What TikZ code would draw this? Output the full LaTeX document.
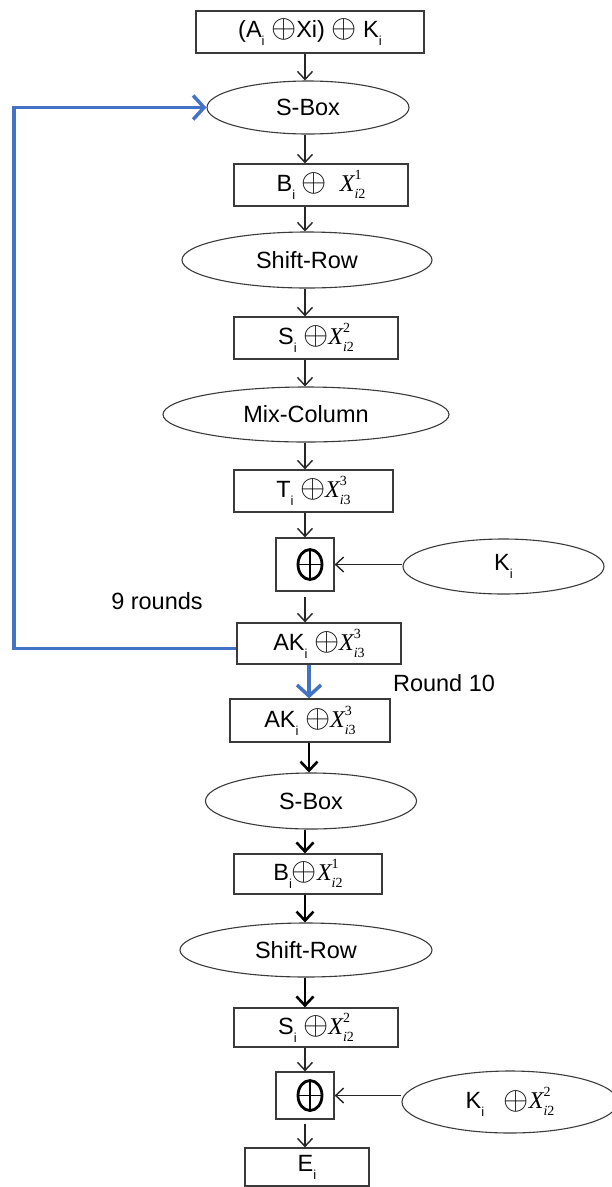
\documentclass[tikz,border=0pt]{standalone}
\usepackage{fontspec}
\usepackage{graphicx}
\setmainfont{Liberation Sans}
\newfontfamily\tnr{Liberation Serif}
\usetikzlibrary{shapes.geometric,arrows.meta}
\definecolor{lineblue}{HTML}{4472C4}
\definecolor{edgegray}{HTML}{3A3A3A}
\newcommand{\sbi}{\raisebox{-0.34em}{\fontsize{13}{13}\selectfont i}}
\newcommand{\Xv}[3]{{\tnr\itshape\fontsize{24}{26}\selectfont X}\makebox[0pt][l]{\raisebox{0.5em}{\tnr\fontsize{14}{14}\selectfont #1}}\raisebox{-0.3em}{\tnr\fontsize{14}{14}\selectfont\textit{#2}#3}}
\newcommand{\xor}{\raisebox{-0.02em}{\scalebox{1.3}{$\oplus$}}}
\tikzset{
  box/.style={draw=edgegray, line width=1.3pt, rectangle, inner sep=0pt, font=\fontsize{23.5}{27}\selectfont},
  oval/.style={draw=edgegray, line width=1.1pt, ellipse, inner sep=0pt, font=\fontsize{23.5}{27}\selectfont},
  lbl/.style={inner sep=0pt, font=\fontsize{23.5}{27}\selectfont},
  conn/.style={draw=black!85, line width=1.4pt, -{Straight Barb[length=8pt,width=15pt]}},
  heavy/.style={draw=black, line width=2.6pt, -{Straight Barb[length=9pt,width=17pt]}},
  blueline/.style={draw=lineblue, line width=3.5pt},
  bluearr/.style={blueline, -{Straight Barb[length=11pt,width=24pt]}},
  xorsym/.style={draw=black, line width=2.8pt},
  xorbar/.style={draw=black, line width=1.8pt}
}
\begin{document}
\begin{tikzpicture}[x=1pt,y=-1pt]
\useasboundingbox (0,0) rectangle (612,1187);
\coordinate (col) at (305,0);
\coordinate (colb) at (309,0);
\coordinate (loopL) at (14,107.5);
% nodes
\node[box, minimum width=228pt, minimum height=42pt] (box1) at (310,32) {(A\sbi{} \xor Xi) \xor{} K\sbi};
\node[oval, minimum width=202pt, minimum height=53pt] (sbox1) at (308,107.5) {S-Box};
\node[box, minimum width=174pt, minimum height=42pt] (b1) at (321,185) {B\sbi{} \xor{}\; \Xv{1}{i}{2}};
\node[oval, minimum width=250pt, minimum height=56pt] (sr1) at (307,260) {Shift-Row};
\node[box, minimum width=164pt, minimum height=42pt] (s1) at (316,338) {S\sbi{} \xor\Xv{2}{i}{2}};
\node[oval, minimum width=286pt, minimum height=55pt] (mc) at (306,414.5) {Mix-Column};
\node[box, minimum width=159pt, minimum height=42pt] (t1) at (313.5,491) {T\sbi{} \xor\Xv{3}{i}{3}};
\node[box, minimum width=58pt, minimum height=53pt] (x1) at (305,564.5) {};
\node[oval, minimum width=201pt, minimum height=55pt] (ki) at (503.5,566.5) {K\sbi};
\node[lbl] (r9) at (157,601) {9 rounds};
\node[box, minimum width=164pt, minimum height=41pt] (ak1) at (319,643.5) {AK\sbi{} \xor\Xv{3}{i}{3}};
\node[lbl] (r10) at (444,683) {Round 10};
\node[box, minimum width=160pt, minimum height=43pt] (ak2) at (310,720.5) {AK\sbi{} \xor\Xv{3}{i}{3}};
\node[oval, minimum width=211pt, minimum height=56pt] (sbox2) at (311,801) {S-Box};
\node[box, minimum width=148pt, minimum height=40pt] (b2) at (308,874) {B\sbi\xor\Xv{1}{i}{2}};
\node[oval, minimum width=252pt, minimum height=54pt] (sr2) at (306,950) {Shift-Row};
\node[box, minimum width=164pt, minimum height=39pt] (s2) at (316,1027.5) {S\sbi{} \xor\Xv{2}{i}{2}};
\node[box, minimum width=58pt, minimum height=47pt] (x2) at (305,1095.5) {};
\node[oval, minimum width=216pt, minimum height=62pt] (kx) at (510,1102) {K\sbi{}\;\; \xor\Xv{2}{i}{2}};
\node[box, minimum width=124pt, minimum height=38pt] (ei) at (307,1167) {E\sbi};
% xor symbols in boxes
\draw[xorsym] ([xshift=5pt]x1.center) ellipse [x radius=12, y radius=15];
\draw[xorbar] ([xshift=5pt,yshift=15pt]x1.center) -- ([xshift=5pt,yshift=-15pt]x1.center);
\draw[xorbar] ([xshift=-7pt]x1.center) -- ([xshift=17pt]x1.center);
\draw[xorsym] ([xshift=5pt]x2.center) ellipse [x radius=12, y radius=15];
\draw[xorbar] ([xshift=5pt,yshift=15pt]x2.center) -- ([xshift=5pt,yshift=-15pt]x2.center);
\draw[xorbar] ([xshift=-7pt]x2.center) -- ([xshift=17pt]x2.center);
% connectors, upper part
\draw[conn] (box1.south -| col) -- (sbox1.north -| col);
\draw[conn] (sbox1.south -| col) -- (b1.north -| col);
\draw[conn] (b1.south -| col) -- (sr1.north -| col);
\draw[conn] (sr1.south -| col) -- (s1.north -| col);
\draw[conn] (s1.south -| col) -- (mc.north -| col);
\draw[conn] (mc.south -| col) -- (t1.north -| col);
\draw[conn] (t1.south -| col) -- (x1.north -| col);
\draw[conn] (x1.east -| ki.west) -- (x1.east);
\draw[conn, shorten <=5pt] (x1.south -| col) -- (ak1.north -| col);
% loop
\draw[bluearr] ([yshift=-5pt]ak1.west) -| (loopL) |- (sbox1.west);
\draw[bluearr] (ak1.south -| colb) -- (ak2.north -| colb);
% lower part
\draw[heavy] (ak2.south -| colb) -- (sbox2.north -| colb);
\draw[heavy] (sbox2.south -| col) -- (b2.north -| col);
\draw[heavy] (b2.south -| col) -- (sr2.north -| col);
\draw[heavy] (sr2.south -| col) -- (s2.north -| col);
\draw[conn] (s2.south -| col) -- (x2.north -| col);
\draw[conn] (x2.east -| kx.west) -- (x2.east);
\draw[conn, shorten <=4pt] (x2.south -| col) -- (ei.north -| col);
\end{tikzpicture}
\end{document}
